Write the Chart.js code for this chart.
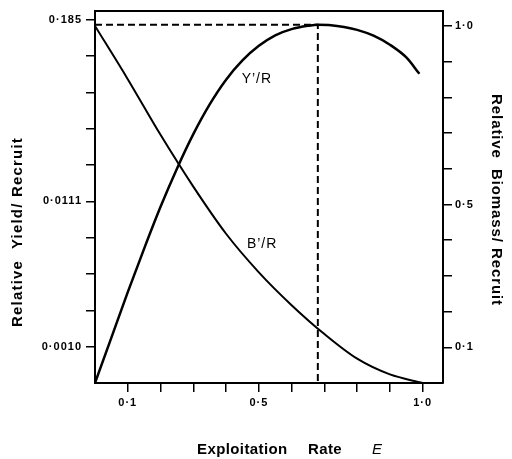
<!DOCTYPE html>
<html><head><meta charset="utf-8">
<script src="https://cdn.jsdelivr.net/npm/chart.js@4.4.1/dist/chart.umd.min.js"></script>
<style>html,body{margin:0;padding:0;background:#fff;}canvas{display:block;}</style>
</head><body>
<canvas id="c" width="512" height="459"></canvas>
<script>
// Relative yield per recruit (left axis, relative units)
const yieldE = [0, 0.05, 0.10, 0.15, 0.20, 0.25, 0.30, 0.35, 0.40, 0.45, 0.50, 0.55, 0.60, 0.65, 0.68, 0.72, 0.76, 0.80, 0.85, 0.90, 0.95, 0.99];
const yieldPerRecruit = [0, 0.125, 0.25, 0.37, 0.485, 0.59, 0.685, 0.767, 0.835, 0.888, 0.928, 0.957, 0.974, 0.983, 0.986, 0.985, 0.980, 0.972, 0.956, 0.931, 0.896, 0.851];
// Relative biomass per recruit (right axis)
const biomassE = [0, 0.1, 0.2, 0.3, 0.4, 0.5, 0.6, 0.7, 0.8, 0.9, 1.0];
const biomassPerRecruit = [1.0, 0.851, 0.695, 0.55, 0.418, 0.31, 0.218, 0.137, 0.068, 0.024, 0.0];
// Optimum exploitation rate and its yield
const eMax = 0.68;
const yieldAtEMax = 0.986;
// Ticks
const xTickValues = [0.1, 0.2, 0.3, 0.4, 0.5, 0.6, 0.7, 0.8, 0.9, 1.0];
const xLabelValues = [0.1, 0.5, 1.0];
const xLabelTexts = ['0·1', '0·5', '1·0'];
const leftTickValues = [0.1, 0.2, 0.3, 0.4, 0.5, 0.6, 0.7, 0.8, 0.9, 1.0];
const leftLabelValues = [0.1, 0.5, 1.0];
const leftLabelTexts = ['0·0010', '0·0111', '0·185'];
const rightTickValues = [0.1, 0.2, 0.3, 0.4, 0.5, 0.6, 0.7, 0.8, 0.9, 1.0];
const rightLabelValues = [0.1, 0.5, 1.0];
const rightLabelTexts = ['0·1', '0·5', '1·0'];
// Curve labels
const curveLabelTexts = ['Y’/R', 'B’/R'];
const curveLabelE = [0.494, 0.51];
const curveLabelValues = [0.836, 0.39];
const curveLabelAxes = ['yL', 'yR'];
// Axis titles
const xTitleWords = ['Exploitation', 'Rate', 'E'];
const leftTitle = 'Relative  Yield/ Recruit';
const rightTitle = 'Relative  Biomass/ Recruit';

function labelFor(vals, texts, v) {
  const i = vals.findIndex(a => Math.abs(a - v) < 1e-6);
  return i < 0 ? '' : texts[i];
}
function setTicks(vals) {
  return s => { s.ticks = vals.map(v => ({value: v})); };
}
const SANS = '"Liberation Sans", Arial, sans-serif';
const tickFont = {family: SANS, size: 11, weight: 'bold'};
const gridOpts = {drawOnChartArea: false, drawTicks: true, tickLength: 9, color: '#000', lineWidth: 1.5};
const borderOpts = {display: true, color: '#000', width: 2};

const textPlugin = {
  id: 'texts',
  beforeDraw(chart) { chart.ctx.letterSpacing = '1px'; },
  afterDraw(chart) {
    const ctx = chart.ctx;
    ctx.save();
    ctx.fillStyle = '#000';
    // curve labels
    ctx.letterSpacing = '1px';
    ctx.font = '14px ' + SANS;
    ctx.textAlign = 'center';
    ctx.textBaseline = 'middle';
    curveLabelTexts.forEach((t, i) => {
      const x = chart.scales.x.getPixelForValue(curveLabelE[i]);
      const y = chart.scales[curveLabelAxes[i]].getPixelForValue(curveLabelValues[i]);
      ctx.fillText(t, x, y);
    });
    // x title
    ctx.letterSpacing = '0.4px';
    ctx.font = 'bold 15px ' + SANS;
    ctx.textAlign = 'left';
    ctx.textBaseline = 'alphabetic';
    ctx.fillText(xTitleWords[0], 197, 454);
    ctx.fillText(xTitleWords[1], 308, 454);
    ctx.font = 'italic 15px ' + SANS;
    ctx.fillText(xTitleWords[2], 372, 454);
    // left title
    ctx.font = 'bold 15px ' + SANS;
    ctx.textAlign = 'center';
    ctx.textBaseline = 'middle';
    ctx.letterSpacing = '1.2px';
    ctx.save();
    ctx.translate(18, 232);
    ctx.rotate(-Math.PI / 2);
    ctx.fillText(leftTitle, 0, 0);
    ctx.restore();
    ctx.letterSpacing = '0.9px';
    ctx.save();
    ctx.translate(496, 200);
    ctx.rotate(Math.PI / 2);
    ctx.fillText(rightTitle, 0, 0);
    ctx.restore();
    ctx.restore();
  }
};

new Chart(document.getElementById('c'), {
  type: 'line',
  data: {
    datasets: [
      {
        label: 'Y’/R',
        data: yieldE.map((e, i) => ({x: e, y: yieldPerRecruit[i]})),
        yAxisID: 'yL', borderColor: '#000', borderWidth: 2.5, pointRadius: 0,
        cubicInterpolationMode: 'monotone', fill: false
      },
      {
        label: 'B’/R',
        data: biomassE.map((e, i) => ({x: e, y: biomassPerRecruit[i]})),
        yAxisID: 'yR', borderColor: '#000', borderWidth: 2, pointRadius: 0,
        cubicInterpolationMode: 'monotone', fill: false
      },
      {
        label: 'max',
        data: [{x: 0, y: yieldAtEMax}, {x: eMax, y: yieldAtEMax}, {x: eMax, y: 0}],
        yAxisID: 'yL', borderColor: '#000', borderWidth: 2, borderDash: [7, 4],
        pointRadius: 0, tension: 0, fill: false
      }
    ]
  },
  options: {
    responsive: false,
    devicePixelRatio: 1,
    animation: false,
    layout: {padding: 0},
    plugins: {legend: {display: false}, tooltip: {enabled: false}},
    scales: {
      x: {
        type: 'linear', position: 'bottom', min: 0, max: 1.062,
        afterBuildTicks: setTicks(xTickValues),
        afterFit: s => { s.height = 76; },
        ticks: {color: '#000', font: tickFont, padding: 4, maxRotation: 0,
          callback: v => labelFor(xLabelValues, xLabelTexts, v)},
        grid: gridOpts, border: borderOpts
      },
      xt: {
        type: 'linear', position: 'top', min: 0, max: 1,
        afterFit: s => { s.height = 9; },
        ticks: {display: false}, grid: {display: false}, border: borderOpts
      },
      yL: {
        type: 'linear', position: 'left', min: 0, max: 1.025,
        afterBuildTicks: setTicks(leftTickValues),
        afterFit: s => { s.width = 95; },
        ticks: {color: '#000', font: tickFont, padding: 4,
          callback: v => labelFor(leftLabelValues, leftLabelTexts, v)},
        grid: gridOpts, border: borderOpts
      },
      yR: {
        type: 'linear', position: 'right', min: 0, max: 1.043,
        afterBuildTicks: setTicks(rightTickValues),
        afterFit: s => { s.width = 69; },
        ticks: {color: '#000', font: tickFont, padding: 3,
          callback: v => labelFor(rightLabelValues, rightLabelTexts, v)},
        grid: gridOpts, border: borderOpts
      }
    }
  },
  plugins: [textPlugin]
});
</script>
</body></html>
